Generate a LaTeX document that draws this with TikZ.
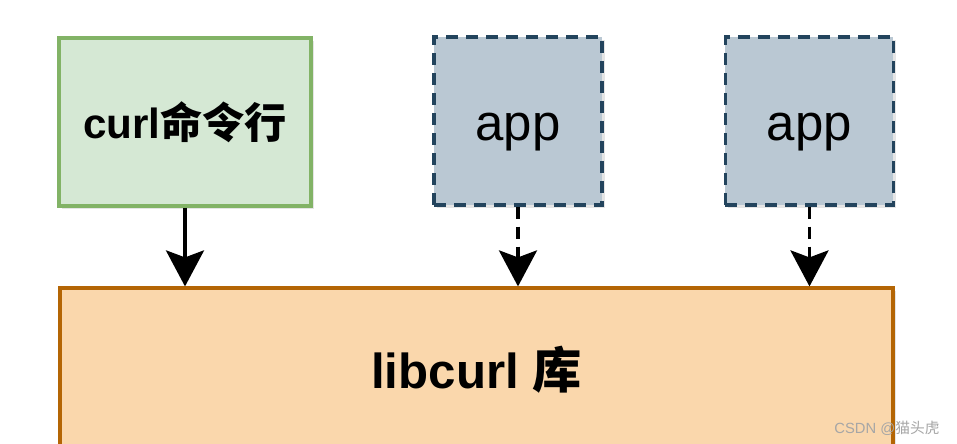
\documentclass[tikz,border=0pt]{standalone}
\usepackage{fontspec}
\setmainfont{Liberation Sans}
\newfontfamily\cjk{Noto Sans CJK SC}
\usetikzlibrary{arrows.meta,shadows}
\definecolor{curlfill}{HTML}{D5E8D4}
\definecolor{curlline}{HTML}{82B366}
\definecolor{appfill}{HTML}{BAC8D3}
\definecolor{appline}{HTML}{23445D}
\definecolor{libfill}{HTML}{FAD7AC}
\definecolor{libline}{HTML}{B46504}
\tikzset{
	box/.style={draw,line width=0.9pt,inner sep=0pt,minimum height=1.68cm,
		drop shadow={opacity=0.2,shadow xshift=0.03cm,shadow yshift=-0.03cm}},
	cmdbox/.style={box,fill=curlfill,draw=curlline,minimum width=2.52cm,font=\fontsize{12}{14}\selectfont\bfseries},
	appbox/.style={box,fill=appfill,draw=appline,minimum width=1.68cm,text height=0.4cm,text depth=0pt,
		dash pattern=on 0.12cm off 0.08cm,font=\fontsize{14.5}{16}\selectfont},
	libbox/.style={box,fill=libfill,draw=libline,minimum width=8.33cm,minimum height=1.64cm,
		font=\fontsize{14}{16}\selectfont\bfseries},
	link/.style={-{Stealth[length=0.36cm,width=0.38cm,inset=0.07cm]},line width=1pt},
}
\begin{document}
\begin{tikzpicture}[x=1cm,y=1cm]
	\clip (0,0) rectangle (9.57,4.44);
	\fill[white] (0,0) rectangle (9.57,4.44);
	% boxes
	\node[cmdbox] (curl) at (1.85,3.22) {curl{\cjk 命令行}};
	\node[appbox] (appa) at (5.18,3.23) {app};
	\node[appbox] (appb) at (8.095,3.23) {app};
	\node[libbox] (lib) at (4.765,0.74) {libcurl {\cjk 库}};
	% arrows
	\draw[link] (curl.south) -- (curl.south |- lib.north);
	\draw[link,dash pattern=on 0.12cm off 0.08cm] (appa.south) -- (appa.south |- lib.north);
	\draw[link,dash pattern=on 0.12cm off 0.08cm] (appb.south) -- (appb.south |- lib.north);
	\node[anchor=east,text=gray!70,font=\fontsize{4.2}{5}\selectfont] (mark) at (9.52,0.16) {CSDN @{\cjk 猫头虎}};
\end{tikzpicture}
\end{document}
